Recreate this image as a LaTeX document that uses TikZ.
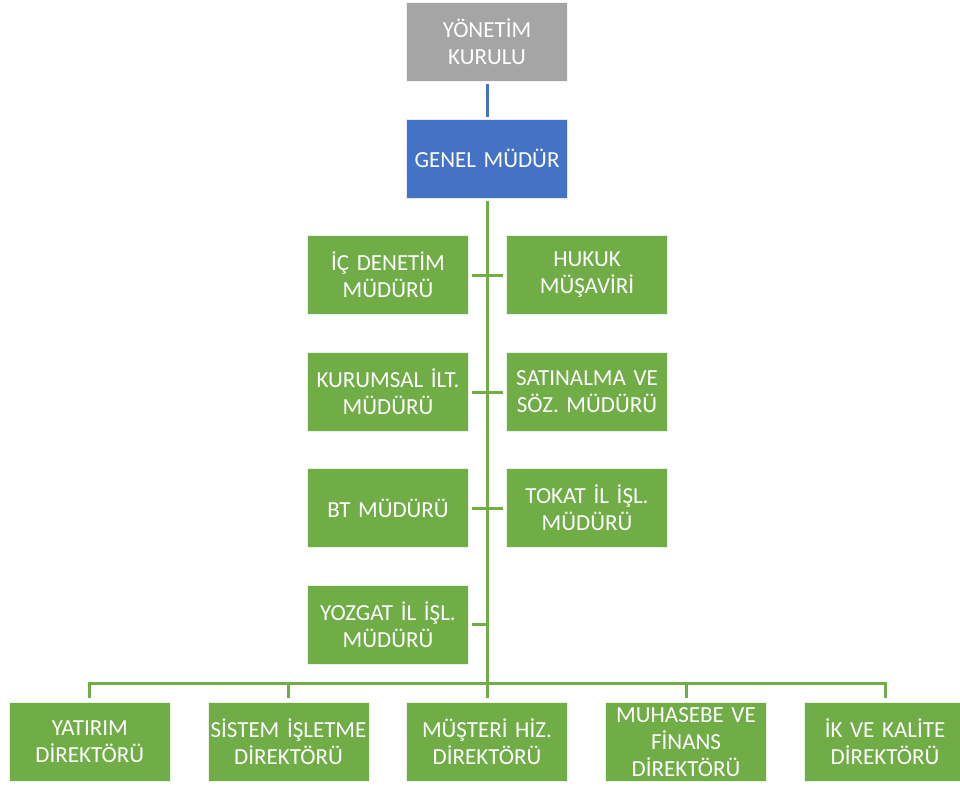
\documentclass[tikz,border=0pt]{standalone}
\usepackage{fontspec}
\setmainfont{Carlito}
\definecolor{boxgray}{HTML}{A5A5A5}
\definecolor{boxblue}{HTML}{4472C4}
\definecolor{boxgreen}{HTML}{70AD47}
\newcommand{\boxfont}{\fontsize{23}{27}\selectfont\spaceskip=0.22em plus 0.05em minus 0.05em\relax}
\begin{document}
\begin{tikzpicture}[x=1pt,y=-1pt,
  box/.style={rectangle, draw=white!85!boxgreen, line width=0.8pt, minimum width=161pt, minimum height=79pt, inner sep=0pt,
    text width=160pt, align=center, text=white, font=\boxfont},
  graybox/.style={box, fill=boxgray, draw=white!85!boxgray},
  bluebox/.style={box, fill=boxblue, draw=white!85!boxblue},
  greenbox/.style={box, fill=boxgreen},
  gline/.style={draw=boxgreen, line width=3pt},
  bline/.style={draw=boxblue, line width=3pt}]
\useasboundingbox (0,0) rectangle (960,787);
\begin{scope}
\clip (0,0) rectangle (960,787);
\node[graybox] (yk) at (487,41.5) {YÖNETİM\\KURULU};
\node[bluebox] (gm) at (487,158.5) {GENEL MÜDÜR};
\node[greenbox] (ic) at (388,275) {İÇ DENETİM\\MÜDÜRÜ};
\node[greenbox] (hk) at (587,275) {HUKUK\\MÜŞAVİRİ};
\node[greenbox] (ku) at (388,392) {KURUMSAL İLT.\\MÜDÜRÜ};
\node[greenbox] (sa) at (587,392) {SATINALMA VE\\SÖZ. MÜDÜRÜ};
\node[greenbox] (bt) at (388,508) {BT MÜDÜRÜ};
\node[greenbox] (to) at (587,508) {TOKAT İL İŞL.\\MÜDÜRÜ};
\node[greenbox] (yo) at (388,624.5) {YOZGAT İL İŞL.\\MÜDÜRÜ};
\node[greenbox] (d1) at (89.8,741.7) {YATIRIM\\DİREKTÖRÜ};
\node[greenbox] (d2) at (288.5,741.7) {SİSTEM İŞLETME\\DİREKTÖRÜ};
\node[greenbox] (d3) at (487,741.7) {MÜŞTERİ HİZ.\\DİREKTÖRÜ};
\node[greenbox] (d4) at (686,741.7) {MUHASEBE VE\\FİNANS\\DİREKTÖRÜ};
\node[greenbox] (d5) at (885,741.7) {İK VE KALİTE\\DİREKTÖRÜ};
\coordinate (bus) at (487,683.3);
\coordinate (y4) at (487,624.5);
% connectors
\draw[bline, shorten <=3pt, shorten >=2pt] (yk.south) -- (gm.north);
\draw[gline, shorten <=3pt] (gm.south) -- (bus);
\draw[gline, shorten <=3pt, shorten >=3pt] (ic.east) -- (hk.west);
\draw[gline, shorten <=3pt, shorten >=3pt] (ku.east) -- (sa.west);
\draw[gline, shorten <=3pt, shorten >=3pt] (bt.east) -- (to.west);
\draw[gline, shorten <=3pt] (yo.east) -- (y4);
\foreach \d in {d1,d2,d3,d4,d5}{
  \draw[gline, shorten >=3.5pt] (bus) -| (\d.north);
}
\end{scope}
\end{tikzpicture}
\end{document}
